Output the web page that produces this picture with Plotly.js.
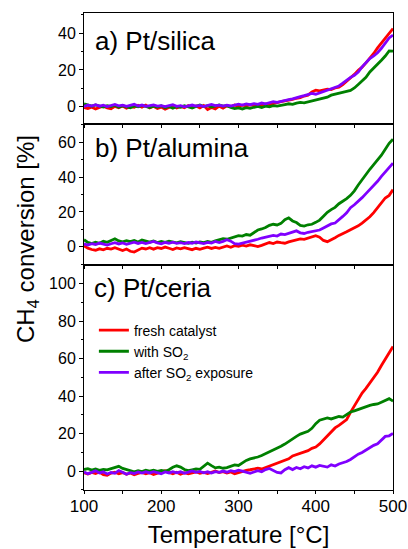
<!DOCTYPE html>
<html>
<head>
<meta charset="utf-8">
<script src="https://cdn.plot.ly/plotly-3.0.1.min.js"></script>
<style>
  html, body { margin: 0; padding: 0; background: #fff; }
  #chart { width: 408px; height: 549px; }
</style>
</head>
<body>
<div id="chart"></div>
<script>
// Temperature grid [°C]
const temperature = [
  100, 105, 110, 115, 120, 125, 130, 135, 140, 145, 150, 155, 160, 165, 170, 175, 180, 185, 190, 195,
  200, 205, 210, 215, 220, 225, 230, 235, 240, 245, 250, 255, 260, 265, 270, 275, 280, 285, 290, 295,
  300, 305, 310, 315, 320, 325, 330, 335, 340, 345, 350, 355, 360, 365, 370, 375, 380, 385, 390, 395,
  400, 405, 410, 415, 420, 425, 430, 435, 440, 445, 450, 455, 460, 465, 470, 475, 480, 485, 490, 495, 500
];

// a) Pt/silica — CH4 conversion [%]
const silicaFresh = [
  -0.5, -1.0, -0.3, -1.2, -0.4, 0.3, -0.6, -1.1, 0.2, -0.5, 0.4, -0.8, 0.1, -0.3, 0.8, -0.2, 0.9, -0.6, 0.3, -0.9,
  -0.2, -1.3, -0.4, 0.5, -0.7, 0.2, -0.5, 0.6, -0.3, 0.4, -0.6, 0.7, -1.5, -0.4, -1.2, 0.3, -0.8, 0.5, 0.1, 0.9,
  0.3, 0.9, 0.5, 1.0, 0.6, 1.2, 0.9, 1.5, 1.2, 1.9, 2.2, 2.8, 3.1, 3.6, 4.0, 4.6, 4.9, 5.8, 6.3, 8.1,
  9.0, 8.6, 8.9, 9.6, 9.3, 10.2, 10.6, 12.0, 13.9, 15.5, 17.6, 19.8, 21.5, 23.9, 26.3, 29.0, 32.0, 34.6, 37.2, 39.8, 42.5
];
const silicaWithSO2 = [
  1.5, 0.9, 0.3, 1.0, 0.4, -0.2, 0.6, 0.1, 0.8, -0.3, 0.5, 0.0, -0.6, 0.4, -0.1, 0.7, 0.2, -0.4, 0.3, -0.2,
  0.5, -0.5, 0.2, -0.8, 0.1, -0.3, 0.6, 0.0, -0.7, 0.2, 0.9, 0.1, 0.6, -0.2, 0.5, 1.0, 0.3, 0.6, -0.4, -1.0,
  -0.6, -1.2, -0.5, -0.9, -0.3, 0.2, -0.4, 0.3, 0.0, 0.6, 0.3, 0.9, 1.2, 1.6, 1.3, 2.0, 2.4, 2.1, 2.6, 3.0,
  3.6, 4.0, 4.5, 5.2, 6.3, 6.9, 7.6, 8.1, 8.4, 8.9, 10.2, 12.1, 13.8, 16.0, 18.9, 21.0, 22.8, 25.3, 27.6, 30.4, 30.2
];
const silicaAfterSO2 = [
  0.2, 0.9, 0.4, 1.1, 0.3, 0.8, 0.1, 0.7, 1.2, 0.5, 0.9, 0.2, 0.8, 1.3, 0.4, 0.9, 0.2, 0.7, 1.0, 0.3,
  0.6, 0.1, 0.8, 1.1, 0.2, 0.6, -0.1, 0.5, 0.9, 0.3, 0.7, 0.1, 0.5, 1.2, 0.6, 0.9, 0.3, 0.8, 0.4, 1.0,
  1.4, 0.9, 1.5, 1.1, 1.7, 1.3, 2.0, 1.6, 2.3, 2.7, 2.4, 3.0, 3.4, 3.8, 4.3, 4.7, 5.5, 6.0, 6.4, 7.2,
  6.8, 7.5, 8.4, 9.0, 9.6, 10.5, 11.3, 12.8, 14.5, 16.0, 17.1, 18.9, 21.7, 23.8, 26.2, 27.6, 29.4, 31.8, 34.5, 37.4, 39.0
];

// b) Pt/alumina
const aluminaFresh = [
  0.5, -0.8, -1.6, -2.0, -1.2, -1.8, -0.9, -1.4, -0.6, -1.5, -2.2, -1.3, -2.6, -3.1, -1.7, -0.8, -1.3, -0.6, -1.4, -0.5,
  -1.0, -0.2, -0.9, -1.6, -0.7, -1.2, -0.5, -1.1, -1.7, -0.9, -1.5, -0.8, -0.3, -1.0, -0.4, -0.9, -0.2, 0.4, -0.3, 0.6,
  0.2, 0.9, 0.4, 1.1, 0.6, 0.1, 0.8, 1.6, 2.4, 1.8, 2.7, 2.3, 2.0, 2.8, 3.3, 3.9, 4.5, 4.2, 5.0, 5.8,
  6.3, 5.5, 3.6, 2.9, 4.3, 5.2, 6.5, 7.4, 8.6, 9.8, 10.9, 12.0, 13.6, 15.4, 17.2, 19.6, 22.5, 25.3, 28.0, 29.5, 32.8
];
const aluminaWithSO2 = [
  4.0, 2.5, 1.8, 2.6, 2.0, 3.1, 2.5, 3.4, 4.6, 3.3, 2.8, 3.5, 2.9, 3.6, 2.7, 3.8, 3.1, 2.6, 3.3, 2.4,
  3.0, 2.5, 3.2, 2.6, 2.2, 2.9, 2.3, 1.9, 2.6, 2.1, 2.8, 2.4, 3.0, 2.5, 3.4, 4.0, 4.6, 4.3, 5.0, 5.8,
  6.4, 6.1, 7.0, 6.6, 8.2, 9.6, 10.2, 11.0, 12.3, 12.9, 12.5, 13.4, 15.5, 16.6, 14.8, 13.9, 12.3, 11.9, 12.6, 12.9,
  14.0, 15.3, 17.5, 19.8, 21.3, 22.6, 24.7, 26.0, 27.6, 29.5, 32.1, 35.5, 38.6, 41.8, 44.5, 47.2, 49.6, 52.6, 56.0, 59.4, 61.8
];
const aluminaAfterSO2 = [
  1.6, 1.0, 1.8, 1.3, 2.1, 1.5, 0.9, 1.7, 2.3, 1.6, 2.2, 1.4, 2.0, 2.6, 1.9, 2.5, 1.8, 2.4, 3.0, 2.2,
  1.7, 2.5, 2.0, 2.6, 1.9, 2.3, 1.8, 2.4, 2.0, 2.7, 2.2, 1.8, 2.5, 2.1, 3.0, 2.4, 3.1, 4.0, 3.2, 1.8,
  1.5, 2.0, 2.6, 3.0, 3.6, 4.3, 5.0, 5.4, 5.8, 6.5, 6.1, 7.3, 7.0, 7.6, 8.4, 9.1, 8.0, 7.6, 8.3, 8.7,
  8.9, 9.6, 10.8, 12.0, 13.1, 13.6, 15.8, 17.4, 19.5, 22.4, 24.1, 25.9, 28.2, 30.5, 32.8, 35.0, 37.6, 40.4, 43.0, 45.6, 48.0
];

// c) Pt/ceria
const ceriaFresh = [
  -0.8, -1.5, -0.6, -1.2, -0.4, -1.8, -2.1, -1.0, -0.5, -1.3, -0.7, -1.6, -0.9, -1.9, -1.2, -0.6, -1.4, -0.8, -1.7, -1.1,
  -0.4, 0.3, -0.6, -1.3, -0.5, -1.6, -0.8, -1.4, -0.9, -0.3, -1.1, -0.6, -1.2, -0.5, 0.1, -0.7, -0.2, -1.0, -0.4, -1.3,
  -0.6, 0.0, 0.5, 0.8, 1.3, 1.6, 1.2, 2.0, 2.6, 3.5, 4.4, 5.0, 6.1, 6.6, 8.2, 8.9, 9.7, 10.3, 11.0, 12.2,
  12.9, 14.6, 16.8, 19.0, 21.0, 23.1, 24.5, 26.0, 27.6, 31.4, 35.0, 38.6, 41.7, 44.2, 47.0, 49.6, 52.8, 56.4, 59.6, 63.3, 66.5
];
const ceriaWithSO2 = [
  0.9, 1.4, 0.6, 1.2, 0.5, 1.0, 0.7, 1.3, 2.0, 2.6, 1.5, 0.8, 0.2, -0.3, 0.3, -0.2, 0.5, 0.1, 0.6, -0.1,
  0.4, 0.0, 0.8, 2.1, 2.9, 2.2, 0.9, 0.3, 0.8, 1.3, 1.0, 2.6, 4.3, 3.0, 1.8, 2.2, 1.6, 1.9, 2.7, 3.4,
  3.1, 4.6, 5.8, 6.6, 6.9, 7.6, 8.4, 9.3, 10.6, 11.5, 12.4, 13.3, 14.5, 16.0, 17.2, 18.6, 19.8, 20.4, 21.3, 22.9,
  25.4, 27.2, 27.8, 28.4, 27.9, 28.6, 29.2, 28.9, 30.4, 31.6, 32.2, 33.0, 33.7, 34.4, 35.1, 35.6, 35.9, 36.8, 37.6, 38.7, 37.4
];
const ceriaAfterSO2 = [
  -0.4, -1.3, -0.6, 0.2, -0.9, -0.3, -1.5, -0.7, -1.1, 0.4, -0.5, -1.6, -0.8, -1.2, -0.4, -1.0, -0.3, -0.9, -0.2, -0.7,
  -1.3, -0.4, -0.9, -0.2, -0.8, -0.3, -1.1, -0.5, 0.2, -0.6, -0.1, -0.8, -0.3, -1.0, -0.2, -0.6, 0.1, -0.5, 0.3, -0.2,
  0.6, 0.1, -0.5, -1.1, -0.4, 0.3, -0.3, 0.9, 1.5, 0.4, -0.6, -0.9, 0.8, 1.9, 0.9, 2.0, 1.3, 2.4, 1.8, 2.9,
  2.2, 3.1, 2.6, 2.2, 3.4, 2.8, 3.9, 4.5, 5.2, 6.3, 7.9, 9.1, 10.0, 11.3, 12.9, 13.8, 14.6, 16.5, 18.6, 18.9, 20.2
];

const seriesNames = ['fresh catalyst', 'with SO<sub>2</sub>', 'after SO<sub>2</sub> exposure'];
const seriesColors = ['#ff0000', '#008000', '#8000ff'];
const panelLabels = ['a) Pt/silica', 'b) Pt/alumina', 'c) Pt/ceria'];

// panel c is the bottom one (x / y), b the middle (x2 / y2), a the top (x3 / y3)
const panels = [
  { data: [ceriaFresh, ceriaWithSO2, ceriaAfterSO2], xa: 'x', ya: 'y', legend: true },
  { data: [aluminaFresh, aluminaWithSO2, aluminaAfterSO2], xa: 'x2', ya: 'y2', legend: false },
  { data: [silicaFresh, silicaWithSO2, silicaAfterSO2], xa: 'x3', ya: 'y3', legend: false }
];

const traces = [];
panels.forEach(p => {
  p.data.forEach((vals, i) => {
    traces.push({
      type: 'scatter', mode: 'lines',
      x: temperature, y: vals,
      xaxis: p.xa, yaxis: p.ya,
      name: seriesNames[i],
      showlegend: p.legend,
      line: { color: seriesColors[i], width: 2.8 }
    });
  });
});

const FONT = 'Arial, "Liberation Sans", sans-serif';
const tickFont = { family: FONT, size: 16, color: '#000' };

function yAxis(domain, range, dtick) {
  return {
    domain: domain, range: range, anchor: 'x',
    showgrid: false, zeroline: false,
    showline: true, linecolor: '#000', linewidth: 1, mirror: true,
    ticks: 'outside', ticklen: 4, tickwidth: 1, tickcolor: '#000',
    dtick: dtick, tick0: 0,
    minor: { dtick: dtick / 2, tick0: 0, ticks: 'outside', ticklen: 2.5, tickcolor: '#000' },
    tickfont: tickFont
  };
}
function yRight(over, range, dtick) {
  return {
    overlaying: over, side: 'right', anchor: 'x', range: range,
    showgrid: false, zeroline: false, showline: false, showticklabels: false,
    ticks: 'inside', ticklen: 3, tickcolor: '#000', dtick: dtick, tick0: 0,
    minor: { dtick: dtick / 2, tick0: 0, ticks: 'inside', ticklen: 2, tickcolor: '#000' }
  };
}
function xHidden(anchor) {
  return {
    domain: [0, 1], range: [100, 500], anchor: anchor, matches: 'x',
    showgrid: false, zeroline: false,
    showline: true, linecolor: '#000', linewidth: 1, mirror: true,
    ticks: 'outside', ticklen: 3, tickcolor: '#000', dtick: 50, tick0: 0,
    showticklabels: false
  };
}

const dC = [0, 0.4717], dB = [0.4717, 0.7673], dA = [0.7673, 1];
const rC = [-10, 110], rB = [-10.5, 70.5], rA = [-9.4, 51];

const layout = {
  width: 408, height: 549,
  margin: { l: 84, r: 15, t: 13, b: 59 },
  paper_bgcolor: '#fff', plot_bgcolor: '#fff',
  font: { family: FONT, color: '#000' },
  showlegend: true,
  legend: {
    x: 0.032, xanchor: 'left', y: 0.368, yanchor: 'top',
    bgcolor: 'rgba(0,0,0,0)', borderwidth: 0,
    font: { family: FONT, size: 14, color: '#000' }
  },
  xaxis: {
    domain: [0, 1], range: [100, 500], anchor: 'y',
    showgrid: false, zeroline: false,
    showline: true, linecolor: '#000', linewidth: 1, mirror: true,
    ticks: 'outside', ticklen: 3, tickcolor: '#000', dtick: 100, tick0: 0,
    minor: { dtick: 50, tick0: 0, ticks: 'outside', ticklen: 3, tickcolor: '#000' },
    tickfont: { family: FONT, size: 17, color: '#000' },
    ticklabelstandoff: -2,
    title: { text: 'Temperature [°C]', font: { family: FONT, size: 24, color: '#000' }, standoff: 10 }
  },
  xaxis2: xHidden('y2'),
  xaxis3: xHidden('y3'),
  xaxis4: {
    overlaying: 'x3', side: 'top', anchor: 'y3', range: [100, 500], matches: 'x',
    showgrid: false, zeroline: false, showline: false, showticklabels: false,
    ticks: 'inside', ticklen: 3, tickcolor: '#000', dtick: 50, tick0: 0
  },
  yaxis: yAxis(dC, rC, 20),
  yaxis2: yAxis(dB, rB, 20),
  yaxis3: yAxis(dA, rA, 20),
  yaxis4: yRight('y', rC, 20),
  yaxis5: yRight('y2', rB, 20),
  yaxis6: yRight('y3', rA, 20),
  annotations: [
    { text: panelLabels[0], xref: 'paper', yref: 'paper', x: 0.03, y: 0.9413, xanchor: 'left', yanchor: 'middle', showarrow: false, font: { family: FONT, size: 26, color: '#000' } },
    { text: panelLabels[1], xref: 'paper', yref: 'paper', x: 0.03, y: 0.717, xanchor: 'left', yanchor: 'middle', showarrow: false, font: { family: FONT, size: 26, color: '#000' } },
    { text: panelLabels[2], xref: 'paper', yref: 'paper', x: 0.027, y: 0.4235, xanchor: 'left', yanchor: 'middle', showarrow: false, font: { family: FONT, size: 26, color: '#000' } },
    { text: 'CH<sub>4</sub> conversion [%]', xref: 'paper', yref: 'paper', x: -0.1845, y: 0.526, xanchor: 'center', yanchor: 'middle', textangle: -90, showarrow: false, font: { family: FONT, size: 24, color: '#000' } }
  ]
};

Plotly.newPlot('chart', traces, layout, { staticPlot: true, displayModeBar: false });
</script>
</body>
</html>
